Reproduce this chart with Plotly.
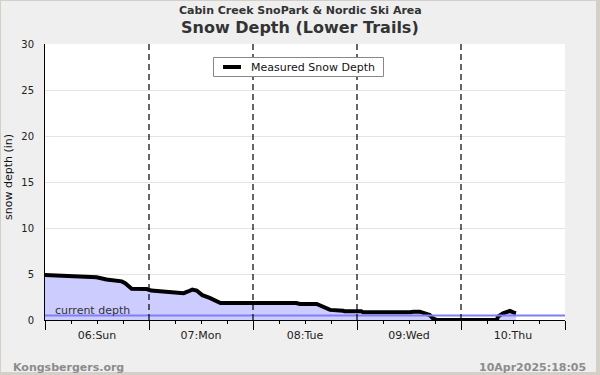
import datetime as dt
import plotly.graph_objects as go

# ---- data ----
base = dt.datetime(2025, 4, 6)
hours = [0, 2.5, 3, 8.8, 9.5, 11.9, 14.2, 17, 17.7, 18.5, 20, 23.5, 24.5, 26.5, 29, 31, 32,
         33, 34, 35, 36.3, 38, 39.7, 40.5, 58, 58.8, 62.7, 64.2, 65.8, 68.8, 69.2, 73.0,
         73.4, 84.2, 85, 86.5, 87.7, 88.8, 89.5, 90.5, 104.3, 104.5, 105.7, 107.3, 108.2, 108.7]
depth = [4.9, 4.85, 4.78, 4.75, 4.68, 4.65, 4.4, 4.25, 4.2, 4.0, 3.4, 3.37, 3.2, 3.12, 3.0, 2.95, 2.92,
         3.1, 3.3, 3.2, 2.7, 2.4, 2.1, 1.85, 1.85, 1.75, 1.75, 1.45, 1.1, 1.0, 0.94, 0.94,
         0.84, 0.84, 0.9, 0.9, 0.7, 0.54, 0.18, 0.0, 0.0, 0.36, 0.73, 0.98, 0.8, 0.75]
current_depth = 0.5
day_labels = ["06:Sun", "07:Mon", "08:Tue", "09:Wed", "10:Thu"]
n_days = 5
series_name = "Measured Snow Depth"

times = [base + dt.timedelta(hours=h) for h in hours]
midnights = [base + dt.timedelta(days=i) for i in range(n_days + 1)]
noons = [base + dt.timedelta(days=i, hours=12) for i in range(n_days)]
x_range = [midnights[0], midnights[-1]]

# pixel helpers for layout decoration
L, R, T, B = 45, 565, 44, 320
def px(x):
    return (x - L) / (R - L)
def py(y):
    return (B - y) / (B - T)

FONT = "DejaVu Sans"
fig = go.Figure()

fig.add_trace(go.Scatter(x=times, y=depth, mode="lines", fill="tozeroy",
                         fillcolor="#ccccff", line=dict(width=0, color="#ccccff"),
                         showlegend=False, hoverinfo="skip"))
fig.add_trace(go.Scatter(x=times, y=depth, mode="lines", name=series_name,
                         line=dict(color="black", width=4), showlegend=False))
fig.add_trace(go.Scatter(x=x_range, y=[current_depth, current_depth], mode="lines",
                         xaxis="x2", line=dict(color="#7f7ff7", width=2),
                         showlegend=False, hoverinfo="skip"))

shapes = [
    dict(type="rect", xref="paper", yref="paper", x0=px(1), x1=px(596), y0=py(372), y1=py(1),
         fillcolor="#efefef", line=dict(width=0), layer="below"),
    dict(type="rect", xref="paper", yref="paper", x0=0, x1=1, y0=0, y1=1,
         fillcolor="white", line=dict(width=0), layer="below"),
]
for m in midnights[1:-1]:
    shapes.append(dict(type="line", xref="x", yref="paper", x0=m, x1=m, y0=0, y1=1,
                       line=dict(color="black", width=1.2, dash="6px,4px"), layer="above"))
# legend box and symbol (drawn over the day separators)
shapes += [
    dict(type="rect", xref="paper", yref="paper", x0=px(213.5), x1=px(383.5), y0=py(76.5), y1=py(57.5),
         fillcolor="white", line=dict(color="#888", width=1), layer="above"),
    dict(type="line", xref="paper", yref="paper", x0=px(223), x1=px(241), y0=py(67), y1=py(67),
         line=dict(color="black", width=4), layer="above"),
]

annotations = [
    dict(text="<b>Cabin Creek SnoPark &amp; Nordic Ski Area</b>", xref="paper", yref="paper",
         x=px(300), y=py(11), xanchor="center", yanchor="middle", showarrow=False,
         font=dict(family=FONT, size=11, color="#333")),
    dict(text="<b>Snow Depth (Lower Trails)</b>", xref="paper", yref="paper",
         x=px(300), y=py(28), xanchor="center", yanchor="middle", showarrow=False,
         font=dict(family=FONT, size=16, color="#333")),
    dict(text="snow depth (in)", xref="paper", yref="paper", x=px(8), y=py(177),
         xanchor="center", yanchor="middle", textangle=-90, showarrow=False,
         font=dict(family=FONT, size=11, color="#111")),
    dict(text="current depth", xref="paper", yref="paper", x=px(53), y=py(310),
         xanchor="left", yanchor="middle", showarrow=False,
         font=dict(family=FONT, size=11, color="#333")),
    dict(text=series_name, xref="paper", yref="paper", x=px(249), y=py(67),
         xanchor="left", yanchor="middle", showarrow=False,
         font=dict(family=FONT, size=11, color="#111")),
    dict(text="<b>Kongsbergers.org</b>", xref="paper", yref="paper", x=px(11), y=py(367),
         xanchor="left", yanchor="middle", showarrow=False,
         font=dict(family=FONT, size=11, color="#8c8c8c")),
    dict(text="<b>10Apr2025:18:05</b>", xref="paper", yref="paper", x=px(588), y=py(367),
         xanchor="right", yanchor="middle", showarrow=False,
         font=dict(family=FONT, size=11, color="#8c8c8c")),
]

fig.update_layout(
    width=600, height=375,
    margin=dict(l=L, r=600 - R, t=T, b=375 - B, pad=0),
    paper_bgcolor="#d4d0c8", plot_bgcolor="white",
    font=dict(family=FONT, size=11, color="#333"),
    shapes=shapes, annotations=annotations,
    showlegend=False,
    xaxis=dict(type="date", range=x_range, tickmode="array", tickvals=midnights,
               showticklabels=False, ticks="outside", ticklen=9, tickcolor="black",
               showgrid=False, zeroline=False, showline=True, linecolor="black", linewidth=1,
               minor=dict(dtick=6 * 3600 * 1000, ticks="outside", ticklen=3,
                          tickcolor="black", showgrid=False)),
    xaxis2=dict(type="date", range=x_range, overlaying="x", side="bottom", anchor="y",
                tickmode="array", tickvals=noons, ticktext=day_labels, ticks="",
                ticklabelstandoff=7, showgrid=False, zeroline=False, showline=False,
                tickfont=dict(family=FONT, size=11, color="#222")),
    yaxis=dict(range=[0, 30], tickmode="array", tickvals=[0, 5, 10, 15, 20, 25, 30],
               ticks="", ticklabelstandoff=8, showgrid=True, gridcolor="#e4e4e4",
               gridwidth=1, zeroline=False, showline=True, linecolor="black", linewidth=1,
               tickfont=dict(family=FONT, size=10, color="#222")),
)

fig.write_html("out.html", config={"displayModeBar": False, "staticPlot": True},
               post_script="document.body.style.margin='0';document.body.style.overflow='hidden';")
